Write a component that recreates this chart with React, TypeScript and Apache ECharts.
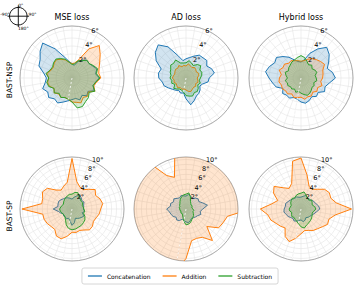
import React, { useEffect, useRef } from "react";
import * as echarts from "echarts";

// azimuth of each sample, degrees clockwise from the front (0°)
const azimuths = [0, 10, 20, 30, 40, 50, 60, 70, 80, 90, 100, 110, 120, 130, 140, 150, 160, 170,
  180, 190, 200, 210, 220, 230, 240, 250, 260, 270, 280, 290, 300, 310, 320, 330, 340, 350];

const lossNames = ["MSE loss", "AD loss", "Hybrid loss"];
const rowNames = ["BAST-NSP", "BAST-SP"];
const seriesNames = ["Concatenation", "Addition", "Subtraction"];
const seriesColors = ["#1f77b4", "#ff7f0e", "#2ca02c"];
const rowMax = [6.5, 10.5];
const rowTicks = [[2, 4, 6], [2, 4, 6, 8, 10]];
const compassLabels = ["0°", "90°", "-90°", "180°"];
const markerAzimuth = 190;

// BAST-NSP
const nspMseConcat = [1.8, 1.6, 2.2, 2.6, 2.9, 2.8, 3.0, 3.3, 3.0, 3.4, 3.0, 2.8, 3.2, 2.6, 2.9, 2.5, 2.9, 2.6, 2.7, 2.9, 3.2, 3.6, 3.4, 3.8, 3.5, 3.9, 3.4, 3.2, 3.6, 4.4, 4.6, 5.2, 5.7, 4.2, 2.8, 2.1];
const nspMseAdd = [1.8, 1.9, 2.4, 4.2, 5.3, 4.6, 4.0, 3.6, 3.4, 3.6, 3.1, 2.9, 3.3, 2.7, 3.0, 2.8, 3.3, 3.1, 3.0, 2.7, 2.6, 2.8, 2.6, 2.9, 2.6, 3.0, 3.1, 2.9, 3.2, 2.8, 2.7, 2.9, 3.0, 2.7, 2.4, 2.0];
const nspMseSub = [1.7, 1.8, 2.3, 2.5, 2.9, 2.8, 3.1, 3.4, 3.1, 3.5, 3.0, 2.8, 3.3, 2.8, 3.2, 3.4, 3.8, 3.8, 3.0, 2.7, 2.6, 2.8, 2.5, 2.9, 2.6, 3.1, 3.2, 2.9, 3.3, 2.9, 2.8, 3.0, 3.1, 2.8, 2.5, 2.0];

const nspAdConcat = [2.4, 2.6, 2.9, 3.3, 3.3, 3.4, 3.0, 3.4, 3.6, 2.9, 2.8, 2.2, 2.0, 2.3, 2.5, 2.6, 3.0, 3.4, 2.6, 1.9, 2.0, 1.8, 2.0, 2.2, 2.5, 2.9, 3.0, 3.4, 3.5, 3.3, 4.3, 5.0, 5.4, 4.5, 3.0, 2.2];
const nspAdAdd = [1.5, 1.8, 1.6, 1.5, 1.7, 1.6, 1.5, 1.7, 1.6, 1.4, 1.5, 1.6, 1.4, 1.6, 1.5, 1.6, 1.8, 1.7, 1.5, 1.4, 1.5, 1.4, 1.6, 1.5, 1.4, 1.6, 1.5, 1.7, 1.6, 1.5, 1.6, 1.7, 1.6, 1.8, 1.5, 1.6];
const nspAdSub = [1.9, 2.2, 2.0, 1.8, 2.2, 2.4, 2.0, 2.1, 2.0, 1.8, 1.7, 1.9, 1.7, 2.0, 2.2, 2.1, 2.4, 2.3, 2.2, 1.8, 1.6, 1.6, 1.8, 2.0, 1.6, 1.9, 1.8, 2.0, 1.9, 2.1, 2.2, 2.5, 2.4, 2.6, 2.0, 1.9];

const nspHybConcat = [2.0, 2.3, 3.3, 4.2, 5.0, 4.6, 4.0, 3.5, 4.0, 4.3, 3.6, 3.2, 3.4, 2.8, 3.0, 2.7, 3.0, 3.2, 3.0, 2.7, 2.6, 2.9, 2.8, 3.0, 2.6, 3.3, 3.6, 4.0, 4.5, 4.2, 3.8, 4.0, 3.5, 3.0, 2.4, 2.1];
const nspHybAdd = [2.1, 2.2, 2.5, 2.8, 3.0, 3.2, 3.4, 2.9, 2.8, 2.7, 2.5, 2.8, 2.4, 2.6, 2.3, 2.6, 2.5, 2.7, 2.4, 2.5, 2.6, 2.3, 2.6, 2.5, 2.7, 2.6, 2.8, 2.7, 2.5, 2.9, 2.6, 2.7, 2.4, 2.5, 2.3, 2.2];
const nspHybSub = [2.8, 2.6, 2.2, 1.9, 2.1, 1.8, 2.0, 2.1, 1.8, 1.9, 2.0, 1.7, 1.9, 1.8, 2.0, 2.2, 2.3, 2.1, 1.9, 1.7, 1.9, 1.6, 1.8, 1.7, 1.9, 1.8, 2.0, 1.7, 1.9, 2.1, 1.8, 2.0, 2.1, 2.3, 2.4, 2.6];

// BAST-SP
const spMseConcat = [2.0, 2.4, 2.8, 3.2, 2.9, 2.6, 2.8, 2.5, 2.4, 2.3, 2.6, 2.2, 2.8, 2.6, 2.4, 2.2, 2.0, 2.8, 3.3, 2.4, 2.0, 2.3, 2.1, 2.2, 2.0, 2.4, 2.8, 3.8, 2.9, 3.0, 3.1, 2.9, 2.7, 2.6, 2.4, 2.2];
const spMseAdd = [10.2, 5.6, 4.7, 4.5, 5.2, 6.1, 5.5, 6.0, 6.3, 5.8, 5.6, 5.2, 5.0, 5.4, 5.5, 4.9, 4.6, 4.8, 4.7, 5.6, 6.4, 6.3, 5.4, 5.5, 5.8, 6.0, 6.0, 10.1, 6.2, 6.3, 6.9, 6.5, 5.0, 4.4, 4.9, 5.5];
const spMseSub = [3.0, 3.4, 3.5, 2.9, 2.6, 2.4, 2.5, 2.2, 2.3, 2.4, 2.6, 2.5, 3.0, 3.4, 3.6, 3.8, 3.9, 4.1, 4.2, 4.0, 3.4, 2.6, 2.2, 2.0, 2.1, 2.2, 2.4, 2.5, 2.3, 2.1, 2.0, 2.2, 2.4, 2.6, 2.8, 3.0];

const spAdConcat = [2.6, 3.0, 2.8, 2.4, 2.9, 3.2, 3.0, 3.6, 4.4, 3.4, 2.9, 3.2, 2.7, 2.5, 2.3, 2.2, 2.5, 2.8, 2.6, 2.4, 2.2, 2.7, 2.9, 2.6, 3.0, 3.2, 3.4, 3.9, 3.2, 3.3, 2.9, 3.2, 2.8, 2.6, 2.9, 2.7];
const spAdAdd = [13, 13, 13, 13, 13, 13, 13, 13, 13, 13, 8.5, 8.0, 7.6, 5.5, 8.3, 6.6, 6.3, 6.5, 10.0, 13, 13, 13, 13, 13, 13, 13, 13, 13, 13, 13, 13, 13, 13, 7.8, 6.8, 13];
const spAdSub = [3.0, 3.3, 2.6, 1.8, 1.5, 1.3, 1.4, 1.3, 1.2, 1.4, 1.6, 1.5, 1.7, 2.0, 2.2, 2.4, 2.8, 3.1, 3.2, 2.5, 1.8, 1.4, 1.2, 1.3, 1.2, 1.1, 1.3, 1.2, 1.4, 1.3, 1.5, 1.6, 1.9, 2.3, 2.6, 2.9];

const spHybConcat = [2.4, 2.6, 2.9, 2.6, 2.4, 2.8, 3.0, 3.2, 3.6, 3.8, 3.2, 2.8, 2.5, 2.3, 2.2, 2.0, 2.4, 2.6, 2.2, 2.4, 2.6, 2.8, 2.5, 2.7, 3.0, 3.2, 3.5, 3.4, 3.2, 3.3, 3.0, 2.8, 2.6, 2.5, 2.6, 2.4];
const spHybAdd = [10.3, 7.0, 4.8, 4.6, 5.2, 6.2, 6.6, 6.4, 7.2, 10.2, 7.0, 6.0, 6.2, 5.6, 5.2, 5.0, 4.6, 4.4, 5.0, 6.0, 7.0, 6.4, 5.0, 5.4, 5.8, 6.5, 6.8, 8.2, 6.0, 5.0, 6.4, 7.1, 5.6, 4.8, 5.5, 9.8];
const spHybSub = [3.2, 3.5, 3.0, 2.6, 2.4, 2.8, 2.6, 2.4, 2.8, 3.0, 2.6, 2.4, 2.6, 2.8, 3.0, 3.2, 3.4, 3.9, 3.6, 3.0, 2.6, 2.4, 2.2, 2.4, 2.2, 2.0, 2.3, 2.4, 2.2, 2.1, 2.4, 2.6, 2.8, 2.6, 2.9, 3.1];

const panels = [
  [nspMseConcat, nspMseAdd, nspMseSub],
  [nspAdConcat, nspAdAdd, nspAdSub],
  [nspHybConcat, nspHybAdd, nspHybSub],
  [spMseConcat, spMseAdd, spMseSub],
  [spAdConcat, spAdAdd, spAdSub],
  [spHybConcat, spHybAdd, spHybSub],
];

const FONT = "DejaVu Sans";
const colX = [72, 186, 301];
const rowY = [78, 209];
const RADIUS = 52;

function buildOption() {
  const polar: any[] = [];
  const angleAxis: any[] = [];
  const radiusAxis: any[] = [];
  const series: any[] = [];
  const graphic: any[] = [];

  // data polars
  panels.forEach((vals, i) => {
    const r = Math.floor(i / 3);
    const c = i % 3;
    polar.push({ center: [colX[c], rowY[r]], radius: RADIUS });
    angleAxis.push({
      polarIndex: i, type: "value", min: 0, max: 360, interval: 10,
      startAngle: 90, clockwise: true,
      axisLine: { show: true, lineStyle: { color: "#9a9a9a", width: 0.8 } },
      axisTick: { show: false }, axisLabel: { show: false },
      splitLine: { show: true, lineStyle: { color: "#e4e4e4", width: 0.6 } },
    });
    radiusAxis.push({
      polarIndex: i, type: "value", min: 0, max: rowMax[r], interval: 1,
      axisLine: { show: false }, axisTick: { show: false }, axisLabel: { show: false },
      splitLine: { show: true, lineStyle: { color: "#e4e4e4", width: 0.6 } },
    });
    vals.forEach((v, s) => {
      const data = v.map((val, k) => [val, azimuths[k]]);
      data.push([v[0], 360]);
      series.push({
        type: "line", name: seriesNames[s], coordinateSystem: "polar", polarIndex: i,
        data, symbol: "none", showSymbol: false, clip: true,
        lineStyle: { color: seriesColors[s], width: 1 },
        itemStyle: { color: seriesColors[s] },
        areaStyle: { color: seriesColors[s], opacity: 0.2 },
        z: 2 + s,
      });
    });
    series.push({
      type: "line", coordinateSystem: "polar", polarIndex: i, silent: true,
      data: [[0, markerAzimuth], [rowMax[r], markerAzimuth]], symbol: "none",
      lineStyle: { color: "#ffffff", width: 0.8, type: [2, 2] }, z: 6,
    });
  });

  // label polars (radial tick labels)
  panels.forEach((_, i) => {
    const r = Math.floor(i / 3);
    const c = i % 3;
    const pi = 6 + i;
    polar.push({ center: [colX[c], rowY[r]], radius: RADIUS });
    angleAxis.push({
      polarIndex: pi, type: "value", min: 0, max: 360, startAngle: 67.5, clockwise: true,
      show: false,
    });
    radiusAxis.push({
      polarIndex: pi, type: "value", min: 0, max: rowMax[r], interval: 2,
      axisLine: { show: false }, axisTick: { show: false }, splitLine: { show: false },
      z: 10,
      axisLabel: {
        show: true, fontSize: 6.5, fontFamily: FONT, color: "#000", margin: -1,
        align: "left", verticalAlign: "bottom",
        formatter: (val: number) => (rowTicks[r].indexOf(val) >= 0 ? val + "°" : ""),
      },
    });
  });

  lossNames.forEach((t, c) => {
    graphic.push({
      type: "text", x: colX[c], y: 17,
      style: { text: t, font: `8px "${FONT}"`, fill: "#000", align: "center", verticalAlign: "middle", textAlign: "center", textVerticalAlign: "middle" },
    });
  });
  rowNames.forEach((t, r) => {
    graphic.push({
      type: "text", x: 9, y: rowY[r] + (r === 0 ? 2 : 7), rotation: Math.PI / 2,
      style: { text: t, font: `7.5px "${FONT}"`, fill: "#000", align: "center", verticalAlign: "middle", textAlign: "center", textVerticalAlign: "middle" },
    });
  });

  // compass icon
  const ccx = 18.3, ccy = 16.2, cr = 8.8;
  graphic.push({ type: "circle", shape: { cx: ccx, cy: ccy, r: cr }, style: { fill: "none", stroke: "#000", lineWidth: 0.9 } });
  graphic.push({ type: "line", shape: { x1: ccx - cr - 2, y1: ccy, x2: ccx + cr + 2, y2: ccy }, style: { stroke: "#000", lineWidth: 0.9 } });
  graphic.push({ type: "line", shape: { x1: ccx, y1: ccy - cr - 2, x2: ccx, y2: ccy + cr + 2 }, style: { stroke: "#000", lineWidth: 0.9 } });
  const cpos = [[ccx + 2.5, 5], [ccx + cr + 5.5, ccy - 1.5], [ccx - cr - 4.5, ccy - 1.5], [ccx + 5, ccy + cr + 3.5]];
  compassLabels.forEach((t, k) => {
    graphic.push({
      type: "text", x: cpos[k][0], y: cpos[k][1],
      style: { text: t, font: `4.5px "${FONT}"`, fill: "#000", align: "center", verticalAlign: "middle", textAlign: "center", textVerticalAlign: "middle" },
    });
  });

  return {
    animation: false,
    polar, angleAxis, radiusAxis, series, graphic,
    legend: {
      data: seriesNames.map((n) => ({ name: n, icon: "rect" })),
      left: "center", top: 268,
      itemWidth: 14, itemHeight: 1.3, itemGap: 12,
      textStyle: { fontSize: 6, fontFamily: FONT, color: "#000", padding: [0, 0, 0, 0] },
      borderColor: "#cccccc", borderWidth: 0.8, borderRadius: 2, padding: [5, 6, 5, 6],
    },
  };
}

export default function App() {
  const ref = useRef<HTMLDivElement>(null);
  useEffect(() => {
    if (!ref.current) return;
    const chart = echarts.init(ref.current, undefined, { renderer: "svg" });
    chart.setOption(buildOption());
    return () => chart.dispose();
  }, []);
  return (
    <div
      ref={ref}
      style={{ position: "fixed", left: 0, top: 0, width: 360, height: 288, background: "#fff" }}
    />
  );
}
